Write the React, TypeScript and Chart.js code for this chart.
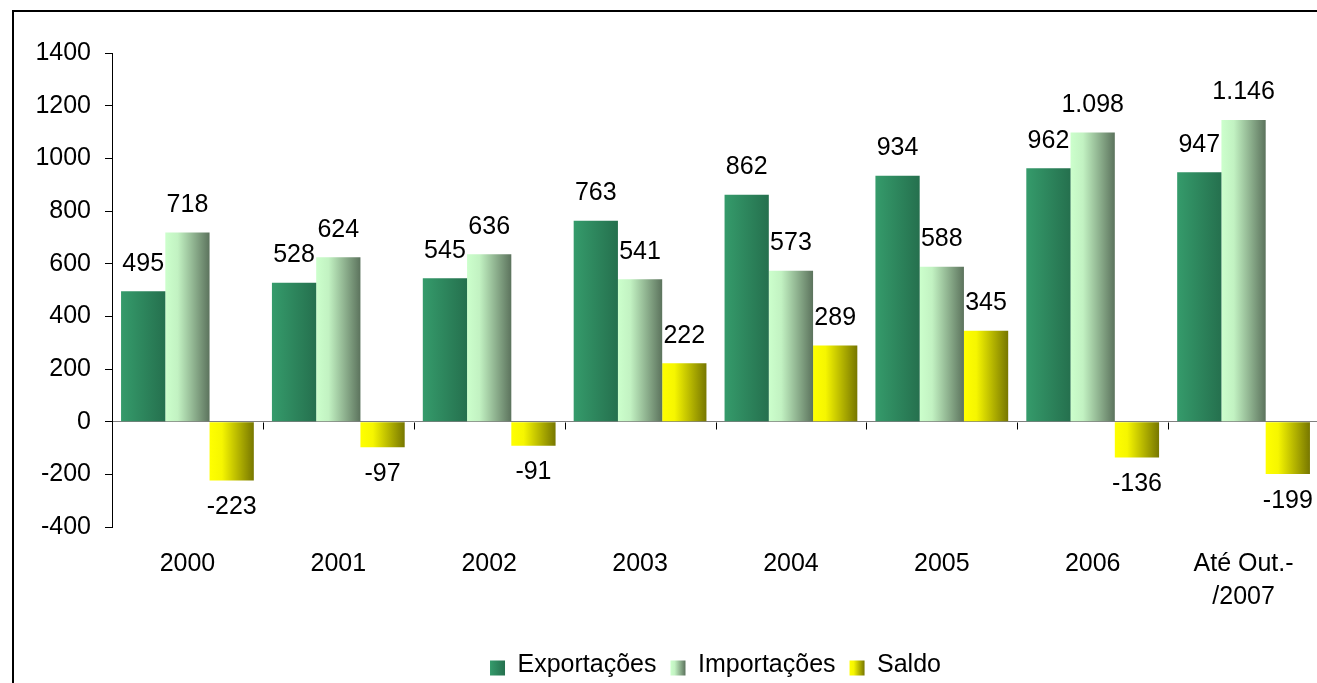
import React, { useEffect, useRef } from 'react';
import { Chart, registerables } from 'chart.js';

Chart.register(...registerables);

// ---- Data ----
const categories: (string | string[])[] = ['2000', '2001', '2002', '2003', '2004', '2005', '2006', ['Até Out.-', '/2007']];
const seriesNames = ['Exportações', 'Importações', 'Saldo'];
const exportacoes = [495, 528, 545, 763, 862, 934, 962, 947];
const importacoes = [718, 624, 636, 541, 573, 588, 1098, 1146];
const saldo = [-223, -97, -91, 222, 289, 345, -136, -199];
const yMin = -400;
const yMax = 1400;
const yStep = 200;

// ---- Styles ----
const FONT = '"Liberation Sans", Arial, Helvetica, sans-serif';
const FS = 25;
const W = 1325;
const H = 690;

const flatColors = ['#2e8a5e', '#9fc9a0', '#c4c400'];
const gradientStops: [number, string][][] = [
  [[0, '#359b6b'], [1, '#25704e']],
  [[0, '#ccffcc'], [0.28, '#c2f2c2'], [1, '#5c735d']],
  [[0, '#ffff00'], [0.28, '#f6f600'], [1, '#777700']],
];

function makeGrad(ctx: CanvasRenderingContext2D, x0: number, x1: number, stops: [number, string][]) {
  const g = ctx.createLinearGradient(x0, 0, x1, 0);
  stops.forEach(([o, c]) => g.addColorStop(o, c));
  return g;
}

const fmt = (v: number) => String(v).replace(/\B(?=(\d{3})+(?!\d))/g, '.');

const gradientPlugin = {
  id: 'gradFill',
  beforeDatasetsDraw(chart: any) {
    const ctx = chart.ctx;
    chart.data.datasets.forEach((_ds: any, di: number) => {
      const meta = chart.getDatasetMeta(di);
      meta.data.forEach((el: any) => {
        const { x, width } = el.getProps(['x', 'width'], true);
        el.options = { ...el.options, backgroundColor: makeGrad(ctx, x - width / 2, x + width / 2, gradientStops[di]) };
      });
    });
  },
};

const labelPlugin = {
  id: 'valueLabels',
  afterDatasetsDraw(chart: any) {
    const ctx = chart.ctx;
    ctx.save();
    ctx.font = `${FS}px ${FONT}`;
    ctx.fillStyle = '#000';
    ctx.textAlign = 'center';
    ctx.textBaseline = 'alphabetic';
    chart.data.datasets.forEach((ds: any, di: number) => {
      const meta = chart.getDatasetMeta(di);
      meta.data.forEach((el: any, i: number) => {
        const v = ds.data[i] as number;
        const { x, y } = el.getProps(['x', 'y'], true);
        ctx.fillText(fmt(v), x, v >= 0 ? y - 20.5 : y + 33.6);
      });
    });
    ctx.restore();
  },
};

const zeroTicksPlugin = {
  id: 'zeroTicks',
  afterDraw(chart: any) {
    const ctx = chart.ctx;
    const xs = chart.scales.x;
    const y0 = Math.round(chart.scales.y.getPixelForValue(0)) + 0.5;
    ctx.save();
    ctx.strokeStyle = '#000';
    ctx.lineWidth = 1;
    ctx.beginPath();
    for (let i = 0; i < categories.length - 1; i++) {
      const bx = Math.round((xs.getPixelForValue(i) + xs.getPixelForValue(i + 1)) / 2) + 0.5;
      ctx.moveTo(bx, y0);
      ctx.lineTo(bx, y0 + 7);
    }
    ctx.stroke();
    ctx.restore();
  },
};

const legendBoxPlugin = {
  id: 'legendBoxes',
  afterDraw(chart: any) {
    const ctx = chart.ctx;
    const boxes = chart.legend?.legendHitBoxes || [];
    boxes.forEach((hb: any, i: number) => {
      ctx.save();
      ctx.fillStyle = makeGrad(ctx, hb.left, hb.left + 15, gradientStops[i]);
      ctx.fillRect(hb.left, hb.top + 7.5, 15, 15);
      ctx.restore();
    });
  },
};

export default function App() {
  const ref = useRef<HTMLCanvasElement>(null);

  useEffect(() => {
    if (!ref.current) return;
    Chart.defaults.font.family = FONT;
    const seriesValues = [exportacoes, importacoes, saldo];
    const chart = new Chart(ref.current, {
      type: 'bar',
      data: {
        labels: categories,
        datasets: seriesValues.map((vals, i) => ({
          label: seriesNames[i],
          data: vals,
          backgroundColor: (c: any) => flatColors[i],
          borderWidth: 0,
          categoryPercentage: 0.88,
          barPercentage: 1,
        })),
      },
      options: {
        responsive: false,
        animation: false,
        events: [],
        layout: { padding: { left: 0, top: 53, right: 6, bottom: 2 } },
        plugins: {
          legend: {
            position: 'bottom',
            fullSize: false,
            labels: {
              boxWidth: 15,
              boxHeight: 15,
              padding: 14,
              color: '#000',
              font: { family: FONT, size: FS },
              generateLabels: (ch: any) =>
                Chart.defaults.plugins.legend.labels.generateLabels(ch).map((l: any) => ({
                  ...l,
                  fillStyle: 'rgba(0,0,0,0)',
                  strokeStyle: 'rgba(0,0,0,0)',
                  lineWidth: 0,
                })),
            },
          },
          tooltip: { enabled: false },
          title: { display: false },
        },
        scales: {
          x: {
            offset: true,
            grid: { display: false, drawTicks: false },
            border: { display: false },
            ticks: {
              color: '#000',
              font: { family: FONT, size: FS, lineHeight: 1.34 },
              padding: 20,
              maxRotation: 0,
              autoSkip: false,
            },
            afterFit: (s: any) => {
              s.height = 112;
            },
          },
          y: {
            min: yMin,
            max: yMax,
            grid: {
              color: (c: any) => (c.tick && c.tick.value === 0 ? '#7f7f7f' : 'rgba(0,0,0,0)'),
              tickColor: '#000',
              tickLength: 7,
              drawTicks: true,
              lineWidth: 1,
            },
            border: { display: true, color: '#000', width: 1 },
            ticks: {
              stepSize: yStep,
              color: '#000',
              font: { family: FONT, size: FS },
              padding: 14,
              callback: (v: any) => String(v),
            },
            afterFit: (s: any) => {
              s.width = 112;
            },
          },
        },
      } as any,
      plugins: [gradientPlugin, labelPlugin, zeroTicksPlugin, legendBoxPlugin],
    });
    return () => chart.destroy();
  }, []);

  return (
    <div style={{ position: 'fixed', left: 0, top: 0, width: W, height: H, background: '#fff' }}>
      <canvas ref={ref} width={W} height={H} style={{ display: 'block' }} />
      <div
        style={{
          position: 'fixed',
          left: 12,
          top: 10,
          width: 1400,
          height: 800,
          border: '2px solid #000',
          boxSizing: 'border-box',
          pointerEvents: 'none',
        }}
      />
    </div>
  );
}
